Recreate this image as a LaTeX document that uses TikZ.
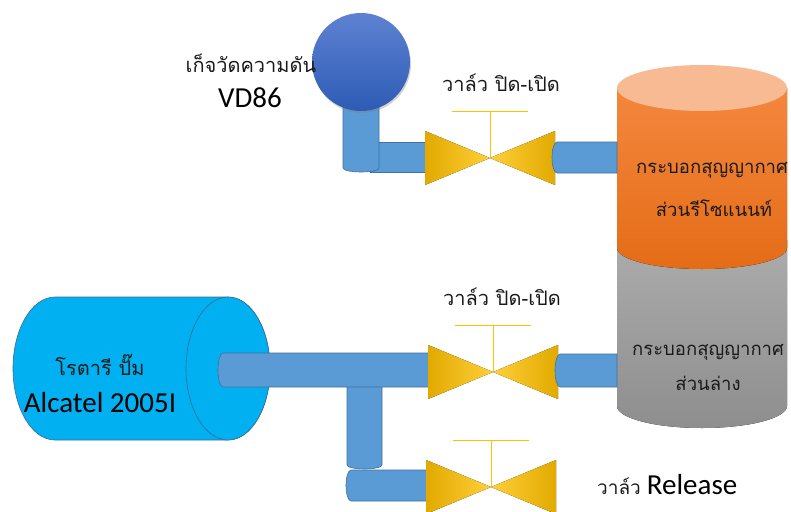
\documentclass[tikz,border=0pt]{standalone}
\usepackage{fontspec}
\setmainfont{Carlito}
\newfontfamily\thai[Script=Thai]{Loma}
\usetikzlibrary{shadows}

\definecolor{pipeblue}{HTML}{5B9BD5}
\definecolor{pipeedge}{HTML}{41719C}
\definecolor{pumpblue}{HTML}{00B0F0}
\definecolor{pumpedge}{HTML}{3D6A99}
\definecolor{gaugetop}{HTML}{5E82D2}
\definecolor{gaugebot}{HTML}{2D5BB5}
\definecolor{valvedark}{HTML}{E2AA00}
\definecolor{valvelight}{HTML}{FFCF3A}
\definecolor{valvestem}{HTML}{FFC000}
\definecolor{orangetop}{HTML}{F7BA92}
\definecolor{orangehi}{HTML}{F4873E}
\definecolor{orangelo}{HTML}{E46C17}
\definecolor{greyhi}{HTML}{ACACAC}
\definecolor{greylo}{HTML}{8E8E8E}
\definecolor{thaiink}{HTML}{1A1A1A}

\begin{document}
\begin{tikzpicture}[x=1pt, y=-1pt,
        pipe/.style={fill=pipeblue, draw=pipeedge, line width=0.6pt},
        thaitext/.style={font=\thai\fontsize{20}{24}\selectfont, text=thaiink, inner sep=0pt},
        tanktext/.style={thaitext, font=\thai\fontsize{18.5}{22}\selectfont},
        bigtext/.style={font=\fontsize{29}{34}\selectfont, inner sep=0pt}]
    \useasboundingbox[fill=white] (0, 0) rectangle (791, 511);

    % vacuum chamber: grey lower part, orange resonant part on top
    \fill[top color=greyhi, bottom color=greylo]
        (617, 240) -- (617, 406) arc[start angle=180, end angle=0, x radius=85, y radius=22]
        -- (787, 240) -- cycle;
    \fill[top color=orangehi, bottom color=orangelo]
        (617, 88) -- (617, 248) arc[start angle=180, end angle=0, x radius=85, y radius=21]
        -- (787, 88) -- cycle;
    \fill[orangetop] (702, 88) ellipse[x radius=85, y radius=23];
    \node[tanktext] (res1) at (712, 170) {กระบอกสุญญากาศ};
    \node[tanktext] (res2) at (714, 208) {ส่วนรีโซแนนท์};
    \node[tanktext] (low1) at (708, 352) {กระบอกสุญญากาศ};
    \node[tanktext] (low2) at (708, 383) {ส่วนล่าง};

    % rotary pump
    \draw[fill=pumpblue, draw=pumpedge, line width=0.6pt]
        (55, 297) -- (228, 297) arc[start angle=-90, end angle=90, x radius=42, y radius=71.5]
        -- (55, 440) arc[start angle=90, end angle=270, x radius=42, y radius=71.5] -- cycle;
    \draw[fill=pumpblue, draw=pumpedge, line width=0.6pt] (228, 368.5) ellipse[x radius=42, y radius=71.5];
    \node[thaitext] (pumpname) at (100, 365) {โรตารี ปั๊ม};
    \node[bigtext] (pumpmodel) at (100, 403) {Alcatel 2005I};

    % pipes on the left of the valves
    \draw[pipe] (382, 384) -- (347, 384) -- (347, 465)
        arc[start angle=180, end angle=0, x radius=17.5, y radius=4] -- cycle;
    \draw[pipe] (430, 353) -- (223, 353) arc[start angle=270, end angle=90, x radius=5, y radius=17]
        -- (430, 387) -- cycle;
    \draw[pipe] (430, 470) -- (351, 470) arc[start angle=270, end angle=90, x radius=5, y radius=15.5]
        -- (430, 501) -- cycle;
    \draw[pipe] (370, 142) rectangle (430, 172);
    \draw[pipe] (379, 90) -- (343, 90) -- (343, 168)
        arc[start angle=180, end angle=0, x radius=18, y radius=4] -- cycle;

    % valves with their hand wheels
    \foreach \vx/\vy/\sy in {490/158/111, 493/372/325, 491/487/440} {
        \fill[left color=valvedark, right color=valvelight]
            (\vx - 65, \vy - 27) -- (\vx, \vy) -- (\vx - 65, \vy + 27) -- cycle;
        \fill[left color=valvelight, right color=valvedark]
            (\vx + 65, \vy - 27) -- (\vx, \vy) -- (\vx + 65, \vy + 27) -- cycle;
        \draw[valvestem, line width=0.8pt] (\vx, \vy) -- (\vx, \sy);
        \draw[valvestem, line width=0.8pt] (\vx - 38, \sy) -- (\vx + 38, \sy);
    }
    \node[thaitext] (valvetop) at (501, 83) {วาล์ว ปิด-เปิด};
    \node[thaitext] (valvemid) at (502, 297) {วาล์ว ปิด-เปิด};
    \node[inner sep=0pt, anchor=west] (release) at (597, 485)
        {{\thai\fontsize{19}{24}\selectfont\color{thaiink}วาล์ว}\hspace{6pt}{\fontsize{29}{34}\selectfont Release}};

    % pipes from the valves into the chamber
    \draw[pipe] (617, 142) -- (557, 142) arc[start angle=270, end angle=90, x radius=5, y radius=15.5]
        -- (617, 173) -- cycle;
    \draw[pipe] (617, 354) -- (560, 354) arc[start angle=270, end angle=90, x radius=5, y radius=16.5]
        -- (617, 387) -- cycle;

    % pressure gauge
    \draw[top color=gaugetop, bottom color=gaugebot, draw=none,
          drop shadow={shadow xshift=1pt, shadow yshift=-2pt, opacity=0.35}]
        (361, 62) circle[radius=49];
    \node[thaitext] (gaugename) at (251, 63) {เก็จวัดความดัน};
    \node[bigtext] (gaugemodel) at (250, 98) {VD86};
\end{tikzpicture}
\end{document}
